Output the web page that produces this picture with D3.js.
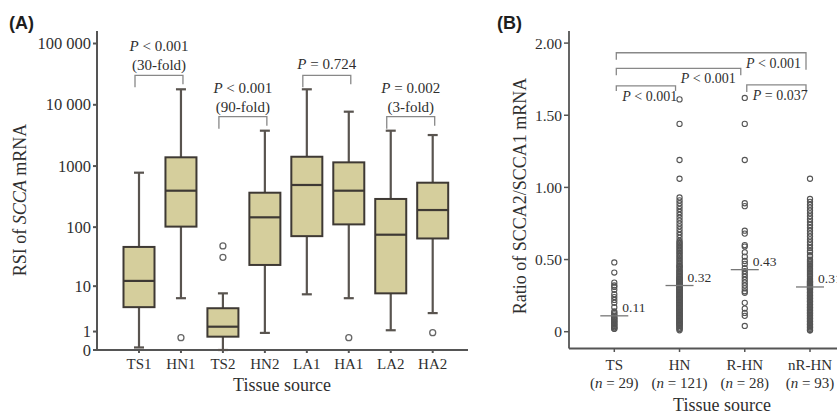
<!DOCTYPE html>
<html>
<head>
<meta charset="utf-8">
<script src="https://cdn.jsdelivr.net/npm/d3@7"></script>
<style>
body { margin: 0; background: #fff; }
text { font-family: "Liberation Serif", "Times New Roman", serif; fill: #2f2f2f; }
</style>
</head>
<body>
<svg class="chart" width="837" height="415"></svg>
<script>
// ---- panel A data (RSI of SCCA mRNA, box plots)
var catsA = ["TS1", "HN1", "TS2", "HN2", "LA1", "HA1", "LA2", "HA2"];
var whiskLoA = [0.1, 6, 0, 0.9, 7.1, 6, 1.1, 3];
var q1A = [4, 102, 0.65, 23.4, 71, 111, 7.4, 65];
var medA = [12.4, 396, 1.4, 145, 491, 396, 75, 191];
var q3A = [47, 1390, 3.8, 367, 1420, 1150, 290, 535];
var whiskHiA = [780, 17900, 7.4, 3780, 17900, 7720, 3780, 3210];
var outliersA = [[], [0.59], [31.5, 48.8], [], [], [0.59], [], [0.92]];
var tickValsA = [0, 1, 10, 100, 1000, 10000, 100000];
var tickLabsA = ["0", "1", "10", "100", "1000", "10 000", "100 000"];
var pairsA = [["TS1", "HN1"], ["TS2", "HN2"], ["LA1", "HA1"], ["LA2", "HA2"]];
var pTextA = ["< 0.001", "< 0.001", "= 0.724", "= 0.002"];
var foldA = ["(30-fold)", "(90-fold)", "", "(3-fold)"];

// ---- panel B data (ratio SCCA2/SCCA1)
var catsB = ["TS", "HN", "R-HN", "nR-HN"];
var nB = ["29", "121", "28", "93"];
var medB = [0.11, 0.32, 0.43, 0.31];
var tsVals = [0.48, 0.41, 0.34, 0.32, 0.31, 0.29, 0.26, 0.24, 0.22, 0.20, 0.17, 0.14, 0.13, 0.12, 0.11,
  0.10, 0.09, 0.09, 0.08, 0.07, 0.07, 0.06, 0.05, 0.05, 0.04, 0.03, 0.03, 0.02, 0.02];
var hnVals = [1.61, 1.44, 1.19, 1.06,
  0.93, 0.91, 0.89, 0.87, 0.85, 0.83, 0.81, 0.79, 0.77, 0.75, 0.73, 0.71, 0.69, 0.67, 0.65, 0.63, 0.62, 0.61, 0.60, 0.59,
  0.58, 0.57, 0.56, 0.55, 0.54, 0.53, 0.52, 0.51, 0.50, 0.49, 0.48, 0.47, 0.46, 0.45, 0.45, 0.44, 0.43, 0.42,
  0.42, 0.41, 0.40, 0.40, 0.39, 0.38, 0.38, 0.37, 0.37, 0.36, 0.36, 0.35, 0.35, 0.34, 0.34, 0.33, 0.33, 0.33,
  0.32,
  0.31, 0.31, 0.30, 0.30, 0.29, 0.29, 0.28, 0.28, 0.27, 0.27, 0.26, 0.26, 0.25, 0.25, 0.24, 0.24, 0.23, 0.23, 0.22, 0.22,
  0.21, 0.21, 0.20, 0.20, 0.19, 0.19, 0.18, 0.18, 0.17, 0.17, 0.16, 0.16, 0.15, 0.15, 0.14, 0.14, 0.13, 0.13, 0.12, 0.12,
  0.11, 0.11, 0.10, 0.10, 0.09, 0.09, 0.08, 0.08, 0.07, 0.07, 0.06, 0.06, 0.05, 0.05, 0.04, 0.04, 0.03, 0.02, 0.02, 0.01];
var rhnVals = [1.62, 1.44, 1.19, 0.89, 0.87, 0.70, 0.68, 0.60, 0.59, 0.55, 0.52, 0.49, 0.47, 0.44,
  0.42, 0.40, 0.38, 0.36, 0.34, 0.32, 0.30, 0.28, 0.27, 0.20, 0.16, 0.13, 0.11, 0.04];
var nrhnVals = [1.06,
  0.92, 0.90, 0.88, 0.86, 0.84, 0.82, 0.80, 0.78, 0.76, 0.74, 0.72, 0.70, 0.68, 0.66, 0.64, 0.62, 0.60,
  0.58, 0.56, 0.55, 0.53, 0.52, 0.50, 0.49, 0.48, 0.47, 0.46, 0.45, 0.44, 0.43, 0.42, 0.41, 0.40, 0.39, 0.38,
  0.37, 0.36, 0.35, 0.35, 0.34, 0.34, 0.33, 0.33, 0.32, 0.32,
  0.31,
  0.30, 0.30, 0.29, 0.29, 0.28, 0.27, 0.27, 0.26, 0.25, 0.25, 0.24, 0.23, 0.23, 0.22, 0.21, 0.21, 0.20, 0.19, 0.19, 0.18,
  0.17, 0.17, 0.16, 0.15, 0.15, 0.14, 0.13, 0.13, 0.12, 0.11, 0.11, 0.10, 0.09, 0.09, 0.08, 0.07, 0.07, 0.06, 0.05, 0.05,
  0.04, 0.03, 0.03, 0.02, 0.01, 0.01];
var valsB = [tsVals, hnVals, rhnVals, nrhnVals];
var tickValsB = [0, 0.5, 1, 1.5, 2];
var tickLabsB = ["0", "0.50", "1.00", "1.50", "2.00"];
var pairsB = [["TS", "nR-HN"], ["TS", "R-HN"], ["TS", "HN"], ["R-HN", "nR-HN"]];
var pTextB = ["< 0.001", "< 0.001", "< 0.001", "= 0.037"];

var chart = d3.select(".chart");
chart.append("rect").attr("width", 837).attr("height", 415).attr("fill", "#fff");

var axisCol = "#555";
var boxFill = "#d5ce9c";
var boxStroke = "#3e3934";

// ================= panel A =================
var xA = d3.scalePoint().domain(catsA).range([139, 432.7]);
var yA = d3.scaleSymlog().constant(1).domain([0, 100000]).range([350, 43.5]);

var gA = chart.append("g");

// axes
gA.append("line").attr("x1", 97).attr("x2", 97).attr("y1", 31).attr("y2", 350)
  .attr("stroke", axisCol).attr("stroke-width", 2);
gA.append("line").attr("x1", 97).attr("x2", 468).attr("y1", 350).attr("y2", 350)
  .attr("stroke", axisCol).attr("stroke-width", 2);

var ytA = gA.selectAll(".ytA").data(tickValsA).enter().append("g");
ytA.append("line").attr("x1", 93).attr("x2", 97)
  .attr("y1", function(d) { return yA(d); }).attr("y2", function(d) { return yA(d); })
  .attr("stroke", axisCol).attr("stroke-width", 2);
ytA.append("text").attr("x", 91).attr("y", function(d) { return yA(d) + 5.5; })
  .attr("text-anchor", "end").style("font-size", "16.5px")
  .text(function(d, i) { return tickLabsA[i]; });

var xtA = gA.selectAll(".xtA").data(catsA).enter().append("g");
xtA.append("line").attr("x1", function(d) { return xA(d); }).attr("x2", function(d) { return xA(d); })
  .attr("y1", 350).attr("y2", 353).attr("stroke", axisCol).attr("stroke-width", 2);
xtA.append("text").attr("x", function(d) { return xA(d); }).attr("y", 369)
  .attr("text-anchor", "middle").style("font-size", "15px").text(function(d) { return d; });

// boxes
var boxW = 31, capW = 10;
var bx = gA.selectAll(".box").data(catsA).enter().append("g");
bx.append("line").attr("x1", function(d) { return xA(d); }).attr("x2", function(d) { return xA(d); })
  .attr("y1", function(d, i) { return yA(whiskHiA[i]); }).attr("y2", function(d, i) { return yA(whiskLoA[i]); })
  .attr("stroke", "#59544f").attr("stroke-width", 2.2);
bx.append("line").attr("x1", function(d) { return xA(d) - capW / 2; }).attr("x2", function(d) { return xA(d) + capW / 2; })
  .attr("y1", function(d, i) { return yA(whiskHiA[i]); }).attr("y2", function(d, i) { return yA(whiskHiA[i]); })
  .attr("stroke", "#59544f").attr("stroke-width", 2.2);
bx.append("line").attr("x1", function(d) { return xA(d) - capW / 2; }).attr("x2", function(d) { return xA(d) + capW / 2; })
  .attr("y1", function(d, i) { return yA(whiskLoA[i]); }).attr("y2", function(d, i) { return yA(whiskLoA[i]); })
  .attr("stroke", "#59544f").attr("stroke-width", 2.2);
bx.append("rect").attr("x", function(d) { return xA(d) - boxW / 2; }).attr("width", boxW)
  .attr("y", function(d, i) { return yA(q3A[i]); })
  .attr("height", function(d, i) { return yA(q1A[i]) - yA(q3A[i]); })
  .attr("fill", boxFill).attr("stroke", boxStroke).attr("stroke-width", 2);
bx.append("line").attr("x1", function(d) { return xA(d) - boxW / 2; }).attr("x2", function(d) { return xA(d) + boxW / 2; })
  .attr("y1", function(d, i) { return yA(medA[i]); }).attr("y2", function(d, i) { return yA(medA[i]); })
  .attr("stroke", boxStroke).attr("stroke-width", 2.2);
bx.each(function(d, i) {
  d3.select(this).selectAll("circle").data(outliersA[i]).enter().append("circle")
    .attr("cx", xA(d)).attr("cy", function(v) { return yA(v); }).attr("r", 3)
    .attr("fill", "none").attr("stroke", "#666").attr("stroke-width", 1.3);
});

// significance brackets
pairsA.forEach(function(p, i) {
  var ia = catsA.indexOf(p[0]), ib = catsA.indexOf(p[1]);
  var top = Math.min(yA(whiskHiA[ia]), yA(whiskHiA[ib])) - 14;
  var xa = xA(p[0]) - 4, xb = xA(p[1]) + 2;
  gA.append("path")
    .attr("d", "M" + xa + "," + (top + 12) + "V" + top + "H" + xb + "V" + (top + 9))
    .attr("fill", "none").attr("stroke", "#888").attr("stroke-width", 1.3);
  var cx = (xa + xb) / 2;
  var pY = foldA[i] ? top - 24 : top - 6;
  var t = gA.append("text").attr("x", cx).attr("y", pY).attr("text-anchor", "middle").style("font-size", "15px");
  t.append("tspan").style("font-style", "italic").text("P");
  t.append("tspan").text(" " + pTextA[i]);
  if (foldA[i]) {
    gA.append("text").attr("x", cx).attr("y", top - 5).attr("text-anchor", "middle")
      .style("font-size", "15px").text(foldA[i]);
  }
});

// titles
gA.append("text").attr("x", 9).attr("y", 29).style("font-family", "'Liberation Sans', Arial, sans-serif")
  .style("font-weight", "bold").style("font-size", "18px").style("fill", "#1e1e1e").text("(A)");
var ttA = gA.append("text").attr("transform", "translate(26,200) rotate(-90)")
  .attr("text-anchor", "middle").style("font-size", "18px");
ttA.append("tspan").text("RSI of ");
ttA.append("tspan").style("font-style", "italic").text("SCCA");
ttA.append("tspan").text(" mRNA");
gA.append("text").attr("x", 282).attr("y", 391).attr("text-anchor", "middle")
  .style("font-size", "18px").text("Tissue source");

// ================= panel B =================
var xB = d3.scalePoint().domain(catsB).range([614.3, 810]);
var yB = d3.scaleLinear().domain([0, 2]).range([331.7, 43.1]);
var gB = chart.append("g");

gB.append("line").attr("x1", 569).attr("x2", 569).attr("y1", 31).attr("y2", 348.5)
  .attr("stroke", axisCol).attr("stroke-width", 1.8);
gB.append("line").attr("x1", 569).attr("x2", 837).attr("y1", 348.5).attr("y2", 348.5)
  .attr("stroke", axisCol).attr("stroke-width", 1.8);

var ytB = gB.selectAll(".ytB").data(tickValsB).enter().append("g");
ytB.append("line").attr("x1", 564).attr("x2", 569)
  .attr("y1", function(d) { return yB(d); }).attr("y2", function(d) { return yB(d); })
  .attr("stroke", axisCol).attr("stroke-width", 1.5);
ytB.append("text").attr("x", 562).attr("y", function(d) { return yB(d) + 5.5; })
  .attr("text-anchor", "end").style("font-size", "15.5px")
  .text(function(d, i) { return tickLabsB[i]; });

var xtB = gB.selectAll(".xtB").data(catsB).enter().append("g");
xtB.append("line").attr("x1", function(d) { return xB(d); }).attr("x2", function(d) { return xB(d); })
  .attr("y1", 348.5).attr("y2", 352).attr("stroke", axisCol).attr("stroke-width", 1.5);
xtB.append("text").attr("x", function(d) { return xB(d); }).attr("y", 370)
  .attr("text-anchor", "middle").style("font-size", "15px").text(function(d) { return d; });
var nl = xtB.append("text").attr("x", function(d) { return xB(d); }).attr("y", 388)
  .attr("text-anchor", "middle").style("font-size", "15px");
nl.append("tspan").text("(");
nl.append("tspan").style("font-style", "italic").text("n");
nl.append("tspan").text(function(d, i) { return " = " + nB[i] + ")"; });

// points
catsB.forEach(function(c, i) {
  gB.selectAll(".pt" + i).data(valsB[i]).enter().append("circle")
    .attr("cx", xB(c)).attr("cy", function(v) { return yB(v); }).attr("r", 2.6)
    .attr("fill", "none").attr("stroke", "#555").attr("stroke-width", 1.1);
});

// medians
var md = gB.selectAll(".med").data(catsB).enter().append("g");
md.append("line").attr("x1", function(d) { return xB(d) - 14; }).attr("x2", function(d) { return xB(d) + 14; })
  .attr("y1", function(d, i) { return yB(medB[i]); }).attr("y2", function(d, i) { return yB(medB[i]); })
  .attr("stroke", "#777").attr("stroke-width", 1.3);
md.append("text").attr("x", function(d) { return xB(d) + 8; }).attr("y", function(d, i) { return yB(medB[i]) - 4; })
  .style("font-size", "13.5px").text(function(d, i) { return medB[i].toFixed(2); });

// brackets
var levB = [1.933, 1.825, 1.703, 1.71];
var legL = [7, 7, 5, 7], legR = [17, 7, 5, 7];
var anchB = ["end", "end", "start", "start"];
pairsB.forEach(function(p, i) {
  var xa = xB(p[0]) + 2, xb = xB(p[1]) - 4;
  var y0 = yB(levB[i]);
  gB.append("path").attr("d", "M" + xa + "," + (y0 + legL[i]) + "V" + y0 + "H" + xb + "V" + (y0 + legR[i]))
    .attr("fill", "none").attr("stroke", "#888").attr("stroke-width", 1.3);
  var tx = anchB[i] == "end" ? xb - 5 : xa + 6;
  var t = gB.append("text").attr("x", tx).attr("y", y0 + 15).attr("text-anchor", anchB[i]).style("font-size", "14px");
  t.append("tspan").style("font-style", "italic").text("P");
  t.append("tspan").text(" " + pTextB[i]);
});

gB.append("text").attr("x", 497).attr("y", 29).style("font-family", "'Liberation Sans', Arial, sans-serif")
  .style("font-weight", "bold").style("font-size", "18px").style("fill", "#1e1e1e").text("(B)");
gB.append("text").attr("transform", "translate(526,196) rotate(-90)").attr("text-anchor", "middle")
  .style("font-size", "18px").text("Ratio of SCCA2/SCCA1 mRNA");
gB.append("text").attr("x", 722).attr("y", 411).attr("text-anchor", "middle")
  .style("font-size", "18px").text("Tissue source");
</script>
</body>
</html>
